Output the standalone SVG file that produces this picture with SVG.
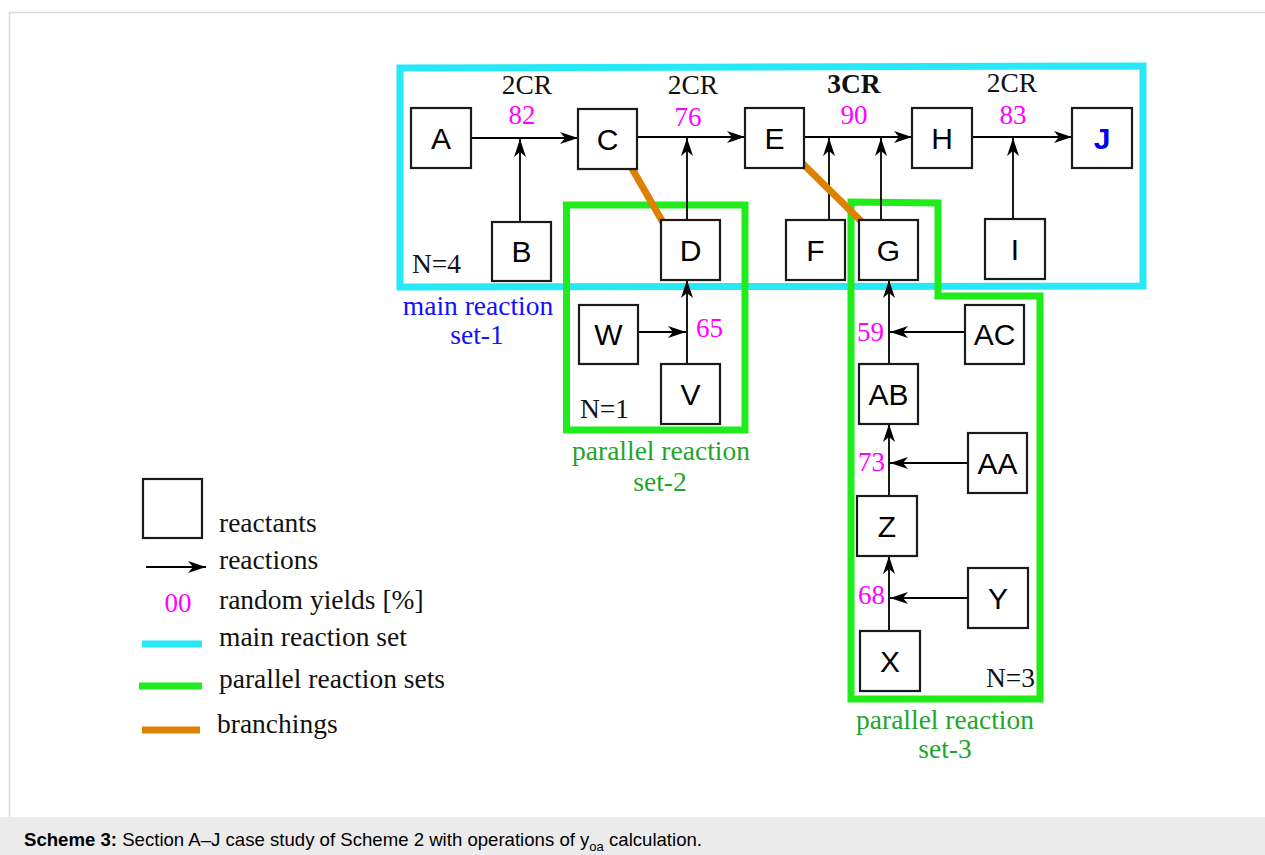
<svg xmlns="http://www.w3.org/2000/svg" width="1265" height="855" viewBox="0 0 1265 855">
<defs>
<marker id="ah" viewBox="0 0 18 12" refX="18" refY="6" markerWidth="18" markerHeight="12" orient="auto" markerUnits="userSpaceOnUse">
<path d="M0,0 L18,6 L0,12 L5,6 Z" fill="#000"/>
</marker>
</defs>
<style>
.box{fill:#fff;stroke:#1a1a1a;stroke-width:2.2}
.lb{font-family:"Liberation Sans",Arial,sans-serif;font-size:30px;fill:#000;text-anchor:middle}
.ser{font-family:"Liberation Serif","Times New Roman",serif;font-size:27.5px;fill:#111}
.mag{font-family:"Liberation Serif","Times New Roman",serif;font-size:27px;fill:#ff00ff}
.arr{stroke:#000;stroke-width:1.8;fill:none;marker-end:url(#ah)}
.cyan{fill:none;stroke:#26e8f6;stroke-width:7}
.green{fill:none;stroke:#1fec1a;stroke-width:7}
.orange{stroke:#de8000;stroke-width:7;fill:none}
.gt{font-family:"Liberation Serif","Times New Roman",serif;font-size:27.5px;fill:#1ea52a;text-anchor:middle}
.bt{font-family:"Liberation Serif","Times New Roman",serif;font-size:27.5px;fill:#1010ff;text-anchor:middle}
</style>
<rect x="0" y="0" width="1265" height="855" fill="#fff"/>
<g id="frame">
<path d="M9.5,817 L9.5,12.5 L1265,12.5" fill="none" stroke="#d9d9d9" stroke-width="1.5"/>
<rect x="0" y="817" width="1265" height="38" fill="#ebebeb"/>
</g>

<g id="sets">
<path class="cyan" d="M400,68 L1143,66 L1143,286 L400,287 Z"/>
<rect class="green" x="566.5" y="205" width="178.5" height="225"/>
<path class="green" d="M851,202 L938,203 L938,296 L1040,296 L1040,699 L851,699 Z"/>
</g>

<g id="connectors">
<line class="arr" x1="471" y1="138" x2="578" y2="138"/>
<line class="arr" x1="520" y1="222" x2="520" y2="139"/>
<line class="arr" x1="637" y1="137" x2="745" y2="137"/>
<line class="arr" x1="687" y1="220" x2="687" y2="138"/>
<line class="arr" x1="804" y1="137" x2="912" y2="137"/>
<line class="arr" x1="829" y1="220" x2="829" y2="138"/>
<line class="arr" x1="881" y1="220" x2="881" y2="138"/>
<line class="arr" x1="972" y1="137" x2="1072" y2="137"/>
<line class="arr" x1="1013" y1="219" x2="1013" y2="138"/>
<line class="arr" x1="687" y1="364" x2="687" y2="280"/>
<line class="arr" x1="639" y1="332" x2="686" y2="332"/>
<line class="arr" x1="889" y1="364" x2="889" y2="280"/>
<line class="arr" x1="965" y1="332" x2="890" y2="332"/>
<line class="arr" x1="889" y1="496" x2="889" y2="424"/>
<line class="arr" x1="967" y1="463" x2="890" y2="463"/>
<line class="arr" x1="889" y1="631" x2="889" y2="556"/>
<line class="arr" x1="968" y1="598" x2="890" y2="598"/>
</g>

<g id="branchings">
<line class="orange" x1="630" y1="165" x2="665" y2="226"/>
<line class="orange" x1="801" y1="162" x2="862" y2="222"/>
</g>

<g id="node-A"><rect class="box" x="411" y="108" width="60" height="60"/><text class="lb" x="441" y="149">A</text></g>
<g id="node-C"><rect class="box" x="578" y="109" width="59" height="60"/><text class="lb" x="607.5" y="150">C</text></g>
<g id="node-E"><rect class="box" x="745" y="108" width="59" height="60"/><text class="lb" x="774.5" y="149">E</text></g>
<g id="node-H"><rect class="box" x="912" y="108" width="60" height="60"/><text class="lb" x="942" y="149">H</text></g>
<g id="node-J"><rect class="box" x="1072" y="108" width="60" height="60"/><text class="lb" x="1102" y="149" style="fill:#0000ee;font-weight:bold">J</text></g>
<g id="node-B"><rect class="box" x="492" y="222" width="59" height="59"/><text class="lb" x="521.5" y="262">B</text></g>
<g id="node-D"><rect class="box" x="661" y="220" width="59" height="60"/><text class="lb" x="690.5" y="261">D</text></g>
<g id="node-F"><rect class="box" x="786" y="220" width="59" height="60"/><text class="lb" x="815.5" y="261">F</text></g>
<g id="node-G"><rect class="box" x="859" y="220" width="59" height="60"/><text class="lb" x="888.5" y="261">G</text></g>
<g id="node-I"><rect class="box" x="985" y="219" width="60" height="60"/><text class="lb" x="1015" y="260">I</text></g>
<g id="node-W"><rect class="box" x="579" y="305" width="59" height="59"/><text class="lb" x="608.5" y="345">W</text></g>
<g id="node-V"><rect class="box" x="661" y="364" width="59" height="60"/><text class="lb" x="690.5" y="405">V</text></g>
<g id="node-AC"><rect class="box" x="965" y="305" width="59" height="59"/><text class="lb" x="994.5" y="345">AC</text></g>
<g id="node-AB"><rect class="box" x="859" y="364" width="59" height="60"/><text class="lb" x="888.5" y="405">AB</text></g>
<g id="node-AA"><rect class="box" x="968" y="433" width="59" height="60"/><text class="lb" x="997.5" y="474">AA</text></g>
<g id="node-Z"><rect class="box" x="857" y="496" width="60" height="60"/><text class="lb" x="887" y="537">Z</text></g>
<g id="node-Y"><rect class="box" x="968" y="568" width="60" height="60"/><text class="lb" x="998" y="609">Y</text></g>
<g id="node-X"><rect class="box" x="860" y="631" width="60" height="60"/><text class="lb" x="890" y="672">X</text></g>

<g id="labels">
<text class="ser" x="527" y="94" text-anchor="middle">2CR</text>
<text class="mag" x="522" y="124" text-anchor="middle">82</text>
<text class="ser" x="693" y="94" text-anchor="middle">2CR</text>
<text class="mag" x="688" y="126" text-anchor="middle">76</text>
<text class="ser" x="854" y="93" text-anchor="middle" font-weight="bold">3CR</text>
<text class="mag" x="854" y="124" text-anchor="middle">90</text>
<text class="ser" x="1012" y="92" text-anchor="middle">2CR</text>
<text class="mag" x="1013" y="124" text-anchor="middle">83</text>
<text class="mag" x="696" y="337">65</text>
<text class="mag" x="884" y="341" text-anchor="end">59</text>
<text class="mag" x="885" y="471" text-anchor="end">73</text>
<text class="mag" x="885" y="604" text-anchor="end">68</text>
<text class="ser" x="412" y="273">N=4</text>
<text class="ser" x="580" y="418">N=1</text>
<text class="ser" x="986" y="687">N=3</text>
<text class="bt" x="478" y="315">main reaction</text>
<text class="bt" x="477" y="344">set-1</text>
<text class="gt" x="661" y="460">parallel reaction</text>
<text class="gt" x="660" y="491">set-2</text>
<text class="gt" x="945" y="729">parallel reaction</text>
<text class="gt" x="945" y="758">set-3</text>
</g>

<g id="legend">
<rect class="box" x="143" y="479" width="59" height="59"/>
<text class="ser" x="219" y="532">reactants</text>
<line class="arr" x1="146" y1="567" x2="206" y2="567"/>
<text class="ser" x="219" y="569">reactions</text>
<text class="mag" x="178" y="612" text-anchor="middle">00</text>
<text class="ser" x="219" y="609">random yields [%]</text>
<line x1="142" y1="644" x2="202" y2="644" stroke="#26e8f6" stroke-width="7"/>
<text class="ser" x="219" y="646">main reaction set</text>
<line x1="139" y1="686" x2="202" y2="686" stroke="#1fec1a" stroke-width="7"/>
<text class="ser" x="219" y="688">parallel reaction sets</text>
<line x1="142" y1="730" x2="200" y2="730" stroke="#de8000" stroke-width="7"/>
<text class="ser" x="217" y="733">branchings</text>
</g>

<g id="caption">
<text x="24" y="846" font-family="'Liberation Sans',Arial,sans-serif" font-size="18.6" fill="#000"><tspan font-weight="bold">Scheme 3:</tspan> Section A–J case study of Scheme 2 with operations of y<tspan font-size="13" dy="5">oa</tspan><tspan dy="-5"> calculation.</tspan></text>
</g>
</svg>
